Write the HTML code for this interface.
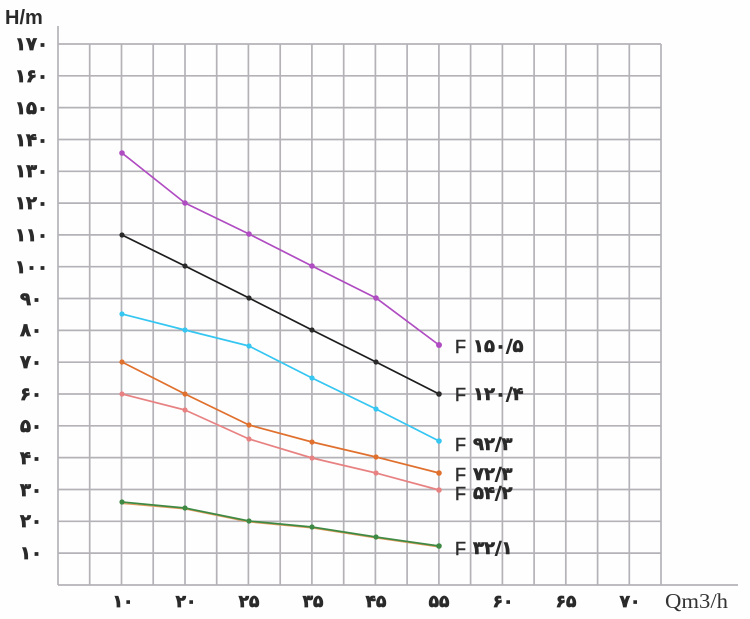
<!DOCTYPE html>
<html>
<head>
<meta charset="utf-8">
<style>
  html, body { margin:0; padding:0; background:#fefefe; }
  svg { display:block; }
  .yl { font-family:"DejaVu Sans", sans-serif; font-weight:bold; font-size:18px; fill:#2a2a2a; stroke:#2a2a2a; stroke-width:0.7; direction:ltr; unicode-bidi:embed; }
  .xl { font-family:"DejaVu Sans", sans-serif; font-weight:bold; font-size:17px; fill:#2a2a2a; stroke:#2a2a2a; stroke-width:0.7; direction:ltr; unicode-bidi:embed; }
  .f { font-family:"Liberation Sans", sans-serif; font-size:18px; fill:#2e2e2e; stroke:#2e2e2e; stroke-width:0.5; }
  .sl { font-family:"DejaVu Sans", sans-serif; font-weight:bold; font-size:18px; fill:#2a2a2a; stroke:#2a2a2a; stroke-width:0.6; direction:ltr; unicode-bidi:embed; }
</style>
</head>
<body>
<svg width="750" height="619" viewBox="0 0 750 619" xmlns="http://www.w3.org/2000/svg">
  <rect width="750" height="619" fill="#fefefe"/>
  <g stroke="#b4b2b7" stroke-width="1.7" fill="none">
    <line x1="58" y1="26" x2="58" y2="585"/>
    <line x1="89.7" y1="44" x2="89.7" y2="585"/>
    <line x1="121.5" y1="44" x2="121.5" y2="585"/>
    <line x1="153.2" y1="44" x2="153.2" y2="585"/>
    <line x1="185" y1="44" x2="185" y2="585"/>
    <line x1="216.7" y1="44" x2="216.7" y2="585"/>
    <line x1="248.4" y1="44" x2="248.4" y2="585"/>
    <line x1="280.2" y1="44" x2="280.2" y2="585"/>
    <line x1="311.9" y1="44" x2="311.9" y2="585"/>
    <line x1="343.7" y1="44" x2="343.7" y2="585"/>
    <line x1="375.4" y1="44" x2="375.4" y2="585"/>
    <line x1="407.1" y1="44" x2="407.1" y2="585"/>
    <line x1="438.9" y1="44" x2="438.9" y2="585"/>
    <line x1="470.6" y1="44" x2="470.6" y2="585"/>
    <line x1="502.4" y1="44" x2="502.4" y2="585"/>
    <line x1="534.1" y1="44" x2="534.1" y2="585"/>
    <line x1="565.8" y1="44" x2="565.8" y2="585"/>
    <line x1="597.6" y1="44" x2="597.6" y2="585"/>
    <line x1="629.3" y1="44" x2="629.3" y2="585"/>
    <line x1="661" y1="44" x2="661" y2="585"/>
    <line x1="58" y1="44" x2="661" y2="44"/>
    <line x1="58" y1="75.8" x2="661" y2="75.8"/>
    <line x1="58" y1="107.6" x2="661" y2="107.6"/>
    <line x1="58" y1="139.5" x2="661" y2="139.5"/>
    <line x1="58" y1="171.3" x2="661" y2="171.3"/>
    <line x1="58" y1="203.1" x2="661" y2="203.1"/>
    <line x1="58" y1="234.9" x2="661" y2="234.9"/>
    <line x1="58" y1="266.7" x2="661" y2="266.7"/>
    <line x1="58" y1="298.5" x2="661" y2="298.5"/>
    <line x1="58" y1="330.4" x2="661" y2="330.4"/>
    <line x1="58" y1="362.2" x2="661" y2="362.2"/>
    <line x1="58" y1="394" x2="661" y2="394"/>
    <line x1="58" y1="425.8" x2="661" y2="425.8"/>
    <line x1="58" y1="457.6" x2="661" y2="457.6"/>
    <line x1="58" y1="489.5" x2="661" y2="489.5"/>
    <line x1="58" y1="521.3" x2="661" y2="521.3"/>
    <line x1="58" y1="553.1" x2="661" y2="553.1"/>
    <line x1="58" y1="585" x2="738" y2="585"/>
  </g>

  <g class="yl" text-anchor="end">
    <text x="48" y="50">۱۷۰</text>
    <text x="48" y="82">۱۶۰</text>
    <text x="48" y="114">۱۵۰</text>
    <text x="48" y="146">۱۴۰</text>
    <text x="48" y="177">۱۳۰</text>
    <text x="48" y="209">۱۲۰</text>
    <text x="48" y="241">۱۱۰</text>
    <text x="48" y="273">۱۰۰</text>
    <text x="42" y="305">۹۰</text>
    <text x="42" y="336">۸۰</text>
    <text x="42" y="368">۷۰</text>
    <text x="42" y="400">۶۰</text>
    <text x="42" y="432">۵۰</text>
    <text x="42" y="464">۴۰</text>
    <text x="42" y="496">۳۰</text>
    <text x="42" y="527">۲۰</text>
    <text x="42" y="559">۱۰</text>
  </g>

  <g class="xl" text-anchor="middle">
    <text x="123" y="607">۱۰</text>
    <text x="186" y="607">۲۰</text>
    <text x="249" y="607">۲۵</text>
    <text x="313" y="607">۳۵</text>
    <text x="376" y="607">۴۵</text>
    <text x="439" y="607">۵۵</text>
    <text x="503" y="607">۶۰</text>
    <text x="566" y="607">۶۵</text>
    <text x="630" y="607">۷۰</text>
  </g>

  <text x="5" y="24" font-family="Liberation Sans, sans-serif" font-weight="bold" font-size="20" fill="#2a2a2a">H/m</text>
  <text x="665" y="608" font-family="Liberation Serif, serif" font-size="21" fill="#333" textLength="63" lengthAdjust="spacingAndGlyphs">Qm3/h</text>

  <g fill="none" stroke-width="1.7" stroke-linejoin="round">
    <polyline stroke="#b04cc2" points="122,153 185,203 249,234 312,266 376,298 439,345"/>
    <polyline stroke="#1e1e1e" points="122,235 185,266 249,298 312,330 376,362 439,394"/>
    <polyline stroke="#35c6f2" points="122,314 185,330 249,346 312,378 376,409 439,441"/>
    <polyline stroke="#e0702e" points="122,362 185,394 249,425 312,442 376,457 439,473"/>
    <polyline stroke="#e88282" points="122,394 185,410 249,439 312,458 376,473 439,490"/>
    <polyline stroke="#e39a5a" stroke-width="1.2" points="122,503.5 185,509 249,522 312,528 376,538 439,547"/>
    <polyline stroke="#3e8a44" points="122,502 185,508 249,521 312,527 376,537 439,546"/>
  </g>
  <g fill="#b04cc2">
    <circle cx="122" cy="153" r="2.8"/><circle cx="185" cy="203" r="2.8"/><circle cx="249" cy="234" r="2.8"/><circle cx="312" cy="266" r="2.8"/><circle cx="376" cy="298" r="2.8"/><circle cx="439" cy="345" r="3"/>
  </g>
  <g fill="#2a2a2a">
    <circle cx="122" cy="235" r="2.6"/><circle cx="185" cy="266" r="2.6"/><circle cx="249" cy="298" r="2.6"/><circle cx="312" cy="330" r="2.6"/><circle cx="376" cy="362" r="2.6"/><circle cx="439" cy="394" r="2.8"/>
  </g>
  <g fill="#35c6f2">
    <circle cx="122" cy="314" r="2.6"/><circle cx="185" cy="330" r="2.6"/><circle cx="249" cy="346" r="2.6"/><circle cx="312" cy="378" r="2.6"/><circle cx="376" cy="409" r="2.6"/><circle cx="439" cy="441" r="2.8"/>
  </g>
  <g fill="#e0702e">
    <circle cx="122" cy="362" r="2.6"/><circle cx="185" cy="394" r="2.6"/><circle cx="249" cy="425" r="2.6"/><circle cx="312" cy="442" r="2.6"/><circle cx="376" cy="457" r="2.6"/><circle cx="439" cy="473" r="2.8"/>
  </g>
  <g fill="#e88282">
    <circle cx="122" cy="394" r="2.6"/><circle cx="185" cy="410" r="2.6"/><circle cx="249" cy="439" r="2.6"/><circle cx="312" cy="458" r="2.6"/><circle cx="376" cy="473" r="2.6"/><circle cx="439" cy="490" r="2.8"/>
  </g>
  <g fill="#3e8a44">
    <circle cx="122" cy="502" r="2.6"/><circle cx="185" cy="508" r="2.6"/><circle cx="249" cy="521" r="2.6"/><circle cx="312" cy="527" r="2.6"/><circle cx="376" cy="537" r="2.6"/><circle cx="439" cy="546" r="2.8"/>
  </g>

  <g class="f">
    <text x="455" y="353">F</text>
    <text x="455" y="401">F</text>
    <text x="455" y="451">F</text>
    <text x="455" y="481">F</text>
    <text x="455" y="500">F</text>
    <text x="455" y="555">F</text>
  </g>
  <g class="sl">
    <text x="473" y="352">۱۵۰/۵</text>
    <text x="473" y="400">۱۲۰/۴</text>
    <text x="473" y="450">۹۲/۳</text>
    <text x="473" y="480">۷۲/۳</text>
    <text x="473" y="499">۵۴/۲</text>
    <text x="473" y="554">۳۲/۱</text>
  </g>
</svg>
</body>
</html>
